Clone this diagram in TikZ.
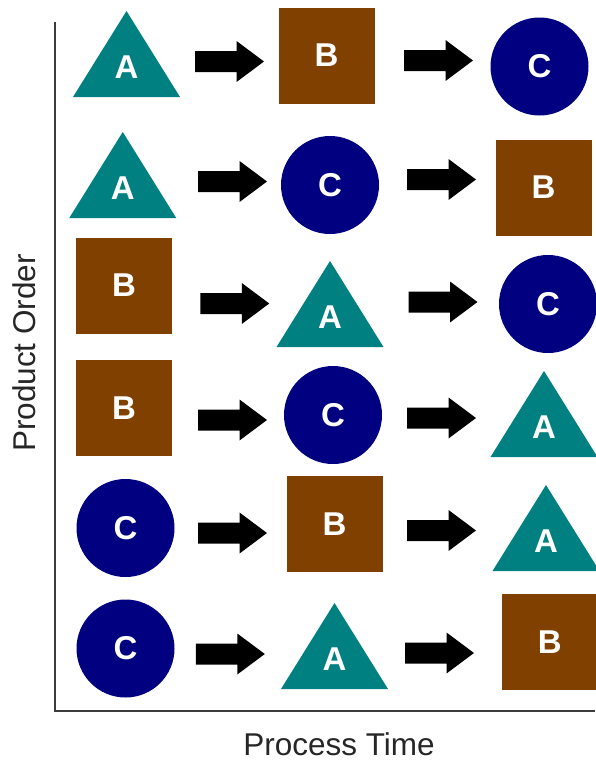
\documentclass[tikz,border=0pt]{standalone}
\usepackage{fontspec}
\setmainfont{Liberation Sans}
\definecolor{triteal}{HTML}{008080}
\definecolor{boxbrown}{HTML}{804000}
\definecolor{discnavy}{HTML}{000080}
\definecolor{axisgray}{HTML}{3C3C3C}
\begin{document}
\begin{tikzpicture}[x=1pt,y=-1pt,
  lab/.style={text=white, font=\fontsize{33}{33}\selectfont\bfseries, inner sep=0pt},
  sq/.style={lab, rectangle, fill=boxbrown, minimum width=96pt, minimum height=96pt},
  disc/.style={lab, circle, fill=discnavy, minimum size=98pt},
  axis/.style={draw=axisgray, line width=2pt},
  axislabel/.style={font=\fontsize{31.5}{31.5}\selectfont, text=black!85, inner sep=0pt, anchor=base},
  tri/.pic={
    \fill[triteal] (-53.5,30) -- (53.5,30) -- (0,-56) -- cycle;
    \node[lab] (-l) at (0,0) {A};
  },
  blockarrow/.pic={
    \fill[black] (-34.5,-10.5) -- (7,-10.5) -- (7,-20.5) -- (34.5,0)
      -- (7,20.5) -- (7,10.5) -- (-34.5,10.5) -- cycle;
  }
]
\useasboundingbox (0,0) rectangle (595,763);

% axes
\coordinate (ytop) at (55,22);
\coordinate (origin) at (55,711);
\coordinate (xend) at (595,711);
\draw[axis] (ytop) -- (origin) -- (xend);
\node[axislabel] (xlabel) at (339,755.5) {Process Time};
\node[axislabel, rotate=90] (ylabel) at (35,353) {Product Order};

% row 1: A -> B -> C
\pic (r1a) at (126.5,67) {tri};
\pic (r1p) at (229.5,61.5) {blockarrow};
\node[sq] (r1b) at (326.5,55.5) {B};
\pic (r1q) at (438.5,60.5) {blockarrow};
\node[disc] (r1c) at (539.5,66.5) {C};

% row 2: A -> C -> B
\pic (r2a) at (122.75,188) {tri};
\pic (r2p) at (232.5,181.5) {blockarrow};
\node[disc] (r2c) at (330,185) {C};
\pic (r2q) at (441.5,179.5) {blockarrow};
\node[sq] (r2b) at (543.5,187.5) {B};

% row 3: B -> A -> C
\node[sq] (r3b) at (124,285.5) {B};
\pic (r3p) at (234.75,303.5) {blockarrow};
\pic (r3a) at (330,317) {tri};
\pic (r3q) at (443,302) {blockarrow};
\node[disc] (r3c) at (548,304) {C};

% row 4: B -> C -> A
\node[sq] (r4b) at (124,408) {B};
\pic (r4p) at (232.5,420) {blockarrow};
\node[disc] (r4c) at (333,415) {C};
\pic (r4q) at (441.5,418) {blockarrow};
\pic (r4a) at (544,427) {tri};

% row 5: C -> B -> A
\node[disc] (r5c) at (125.5,528) {C};
\pic (r5p) at (232.5,533) {blockarrow};
\node[sq] (r5b) at (334.6,524.4) {B};
\pic (r5q) at (441.5,530.5) {blockarrow};
\pic (r5a) at (546,541) {tri};

% row 6: C -> A -> B
\node[disc] (r6c) at (125.5,648.5) {C};
\pic (r6p) at (230.3,654) {blockarrow};
\pic (r6a) at (334.5,659) {tri};
\pic (r6q) at (439.5,653) {blockarrow};
\node[sq] (r6b) at (549.8,642.3) {B};
\end{tikzpicture}
\end{document}
